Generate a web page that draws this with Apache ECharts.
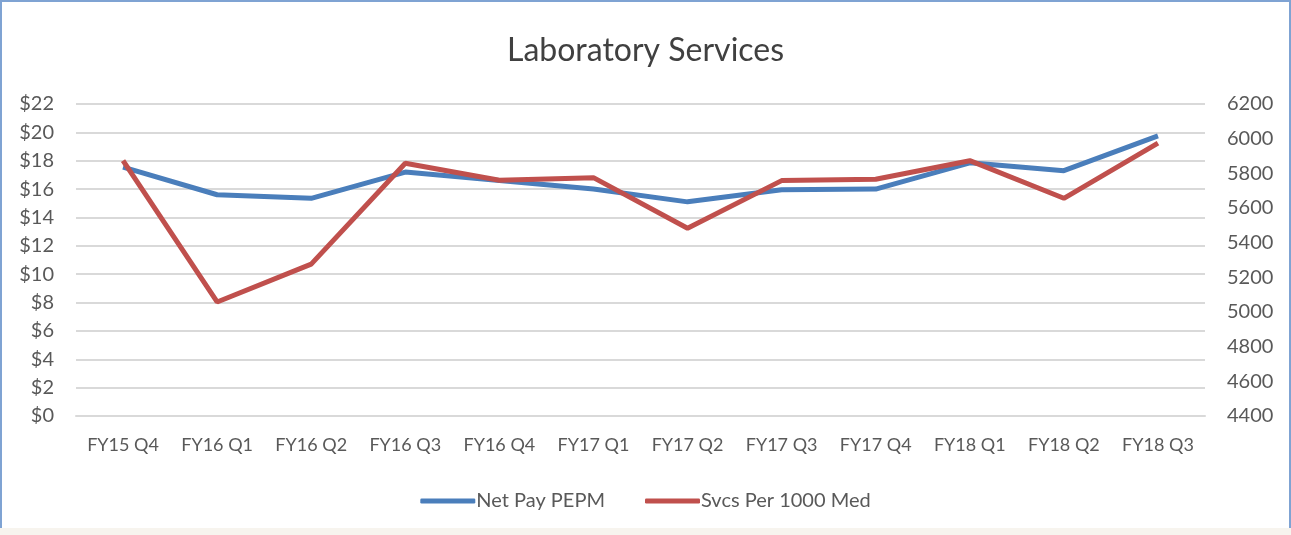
<!DOCTYPE html>
<html lang="en">
<head>
    <meta charset="UTF-8">
    <title>Laboratory Services</title>
    <style>
        body{
            margin: 0;
            background-color: #ffffff;
        }
        .frame{
            position: absolute;
            left: 0; top: 0;
            width: 1287px; height: 527px;
            border: 2px solid #7fa3d3;
            border-bottom: none;
            background: #fff;
        }
        .strip{
            position: absolute;
            left: 0; top: 528px;
            width: 1291px; height: 7px;
            background: #f7f4ee;
        }
    </style>
    <script src="https://cdn.jsdelivr.net/npm/echarts@6/dist/echarts.min.js"></script>
</head>
<body>
<div class="frame"></div>
<div class="strip"></div>
<div id="chart" style="position:absolute;left:0;top:0;width:1291px;height:528px;"></div>
<script type="text/javascript">
    var categories = ['FY15 Q4','FY16 Q1','FY16 Q2','FY16 Q3','FY16 Q4','FY17 Q1',
                      'FY17 Q2','FY17 Q3','FY17 Q4','FY18 Q1','FY18 Q2','FY18 Q3'];
    var netPayPEPM = [17.55, 15.6, 15.35, 17.2, 16.6, 16.0, 15.1, 15.95, 16.0, 17.85, 17.3, 19.75];
    var svcsPer1000 = [5873, 5058, 5276, 5858, 5760, 5775, 5483, 5758, 5766, 5873, 5656, 5974];

    var fontName = 'Lato';
    var gray = '#595959';

    var option = {
        animation: false,
        title: {
            text: 'Laboratory Services',
            left: 'center',
            top: 30,
            textStyle: {fontFamily: fontName, fontSize: 32, fontWeight: 'normal', color: '#404040'}
        },
        legend: {
            top: 486,
            left: 'center',
            itemGap: 40,
            itemWidth: 55,
            itemHeight: 5,
            icon: 'roundRect',
            textStyle: {fontFamily: fontName, fontSize: 20, color: gray, padding: [0, 0, 0, -4]},
            data: ['Net Pay PEPM', 'Svcs Per 1000 Med']
        },
        grid: {left: 76, right: 86, top: 104, bottom: 112, containLabel: false},
        xAxis: {
            type: 'category',
            data: categories,
            boundaryGap: true,
            axisLine: {show: true, lineStyle: {color: '#d9d9d9', width: 2}},
            axisTick: {show: false},
            axisLabel: {fontFamily: fontName, fontSize: 18, color: gray, margin: 20, interval: 0}
        },
        yAxis: [{
            type: 'value',
            min: 0, max: 22, interval: 2,
            axisLine: {show: false},
            axisTick: {show: false},
            splitLine: {lineStyle: {color: '#d9d9d9', width: 2}},
            axisLabel: {fontFamily: fontName, fontSize: 20, color: gray, margin: 22,
                formatter: function(v){ return '$' + v; }}
        }, {
            type: 'value',
            min: 4400, max: 6200, interval: 200,
            axisLine: {show: false},
            axisTick: {show: false},
            splitLine: {show: false},
            axisLabel: {fontFamily: fontName, fontSize: 20, color: gray, margin: 22,
                formatter: function(v){ return String(v); }}
        }],
        series: [{
            name: 'Net Pay PEPM',
            type: 'line',
            yAxisIndex: 0,
            data: netPayPEPM,
            symbol: 'none',
            color: '#4a7ebb',
            lineStyle: {width: 5, color: '#4a7ebb'}
        }, {
            name: 'Svcs Per 1000 Med',
            type: 'line',
            yAxisIndex: 1,
            data: svcsPer1000,
            symbol: 'none',
            color: '#c0504d',
            lineStyle: {width: 5, color: '#c0504d'}
        }]
    };
    var chart = echarts.init(document.getElementById('chart'));
    chart.setOption(option);
</script>
</body>
</html>
